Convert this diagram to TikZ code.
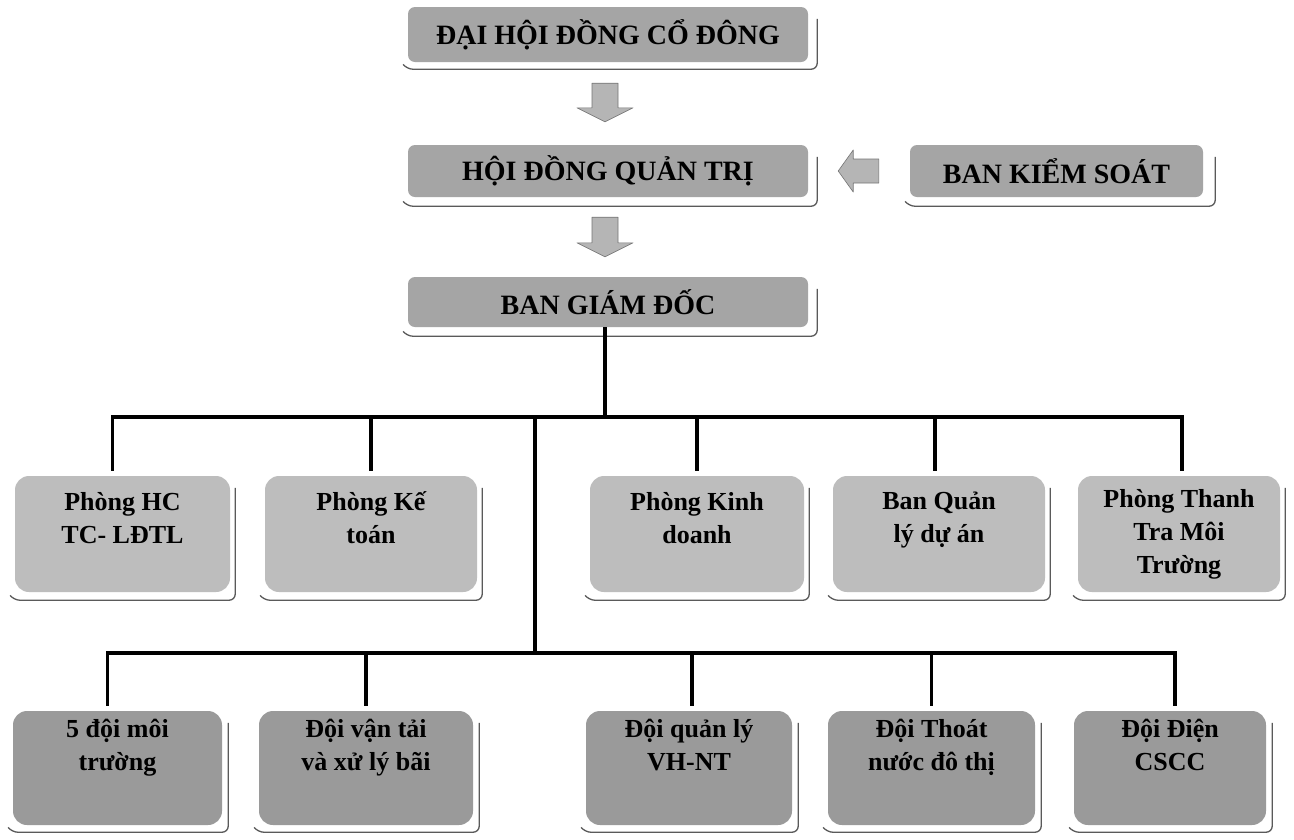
\documentclass[tikz,border=0pt]{standalone}
\usepackage{fontspec}
\setmainfont{Liberation Serif}
\usetikzlibrary{calc}
\definecolor{topfill}{HTML}{A5A5A5}
\definecolor{midfill}{HTML}{BDBDBD}
\definecolor{botfill}{HTML}{9A9A9A}
\definecolor{arrfill}{HTML}{B5B5B5}
\definecolor{shadcol}{HTML}{5A5A5A}
\tikzset{
  topbox/.style={fill=topfill, rounded corners=7pt, inner sep=0pt, text=black,
    font=\fontsize{28}{33}\selectfont\bfseries},
  midbox/.style={fill=midfill, rounded corners=14pt, minimum height=116pt, inner sep=0pt,
    align=center, text=black, font=\fontsize{26}{33}\selectfont\bfseries},
  botbox/.style={fill=botfill, rounded corners=14pt, minimum height=114pt, inner sep=0pt,
    align=center, text=black, font=\fontsize{26}{33}\selectfont\bfseries},
  shad/.style={draw=shadcol, line width=1.3pt, rounded corners=6pt},
  conn/.style={draw=black, line width=3.5pt},
  blockarrow/.style={fill=arrfill, draw=arrfill!65!black, line width=0.6pt, line join=round},
}
\newcommand{\boxshadow}[3]{%
  \draw[shad] ([shift={(-4,#3-4)}]#1.south west) -- ([shift={(-1,#3)}]#1.south west)
    -- ([shift={(#2,#3)}]#1.south east) -- ([shift={(#2,12)}]#1.north east);}
\begin{document}
\begin{tikzpicture}[x=1pt,y=-1pt]
\fill[white] (0,0) rectangle (1294,839);
\useasboundingbox (0,0) rectangle (1294,839);

% top level boxes
\node[topbox, minimum width=400pt, minimum height=55pt] (dhd) at (608,34.5) {ĐẠI HỘI ĐỒNG CỔ ĐÔNG};
\node[topbox, minimum width=400pt, minimum height=52pt] (hdqt) at (608,171) {HỘI ĐỒNG QUẢN TRỊ};
\node[topbox, minimum width=293pt, minimum height=52pt] (bks) at (1056.5,171) {BAN KIỂM SOÁT};
\node[topbox, minimum width=400pt, minimum height=50pt] (bgd) at (608,302) {BAN GIÁM ĐỐC};

% middle row
\node[midbox, minimum width=215pt] (m1) at (122.5,534) {Phòng HC\\TC- LĐTL\\\mbox{}};
\node[midbox, minimum width=212pt] (m2) at (371,534) {Phòng Kế\\toán\\\mbox{}};
\node[midbox, minimum width=214pt] (m3) at (697,534) {Phòng Kinh\\doanh\\\mbox{}};
\node[midbox, minimum width=212pt] (m4) at (939,534) {Ban Quản\\lý dự án\\\mbox{}};
\node[midbox, minimum width=202pt] (m5) at (1179,534) {Phòng Thanh\\Tra Môi\\Trường};

% bottom row
\node[botbox, minimum width=209pt] (b1) at (117.5,768) {5 đội môi\\trường\\[14pt]\mbox{}};
\node[botbox, minimum width=214pt] (b2) at (366,768) {Đội vận tải\\và xử lý bãi\\[14pt]\mbox{}};
\node[botbox, minimum width=206pt] (b3) at (689,768) {Đội quản lý\\VH-NT\\[14pt]\mbox{}};
\node[botbox, minimum width=207pt] (b4) at (931.5,768) {Đội Thoát\\nước đô thị\\[14pt]\mbox{}};
\node[botbox, minimum width=192pt] (b5) at (1170,768) {Đội Điện\\CSCC\\[14pt]\mbox{}};

% shadows
\boxshadow{dhd}{9}{7}
\boxshadow{hdqt}{9}{9}
\boxshadow{bks}{12}{9}
\boxshadow{bgd}{9}{9}
\foreach \n in {m1,m2,m3,m4,m5}{\boxshadow{\n}{5}{8}}
\foreach \n in {b1,b2,b3,b4,b5}{\boxshadow{\n}{6}{7}}

% block arrows
\path[blockarrow] ([shift={(-16,21)}]dhd.south) -- ([shift={(10,21)}]dhd.south)
  -- ([shift={(10,-37)}]hdqt.north) -- ([shift={(25,-37)}]hdqt.north)
  -- ([shift={(-3,-23)}]hdqt.north) -- ([shift={(-31,-37)}]hdqt.north)
  -- ([shift={(-16,-37)}]hdqt.north) -- cycle;
\path[blockarrow] ([shift={(-16,20)}]hdqt.south) -- ([shift={(10,20)}]hdqt.south)
  -- ([shift={(10,-34)}]bgd.north) -- ([shift={(25,-34)}]bgd.north)
  -- ([shift={(-3,-20)}]bgd.north) -- ([shift={(-31,-34)}]bgd.north)
  -- ([shift={(-16,-34)}]bgd.north) -- cycle;
\path[blockarrow] ([shift={(30,0)}]hdqt.east) -- ([shift={(45,-21)}]hdqt.east)
  -- ([shift={(45,-12)}]hdqt.east) -- ([shift={(-31,-12)}]bks.west)
  -- ([shift={(-31,12)}]bks.west) -- ([shift={(45,12)}]hdqt.east)
  -- ([shift={(45,21)}]hdqt.east) -- cycle;

% tree connectors
\coordinate (j0) at (605,417);
\coordinate (t1) at (535,417);
\coordinate (t2) at (535,653);
\draw[conn] ([xshift=-3pt]bgd.south) -- ([xshift=-3pt]bgd.south |- j0);
\draw[conn, shorten <=5pt, shorten >=5pt] ([xshift=-10pt]m1.north) -- ([xshift=-10pt]m1.north |- j0)
  -- ([xshift=3pt]m5.north |- j0) -- ([xshift=3pt]m5.north);
\draw[conn, shorten >=5pt] (m2.north |- j0) -- (m2.north);
\draw[conn, shorten >=5pt] (m3.north |- j0) -- (m3.north);
\draw[conn, shorten >=5pt] ([xshift=-4pt]m4.north |- j0) -- ([xshift=-4pt]m4.north);
\draw[conn] (t1) -- (t2);
\draw[conn, shorten <=5pt, shorten >=5pt] ([xshift=-10pt]b1.north) -- ([xshift=-10pt]b1.north |- t2)
  -- ([xshift=5pt]b5.north |- t2) -- ([xshift=5pt]b5.north);
\draw[conn, shorten >=5pt] (b2.north |- t2) -- (b2.north);
\draw[conn, shorten >=5pt] ([xshift=3pt]b3.north |- t2) -- ([xshift=3pt]b3.north);
\draw[conn, shorten >=5pt] (b4.north |- t2) -- (b4.north);
\end{tikzpicture}
\end{document}
